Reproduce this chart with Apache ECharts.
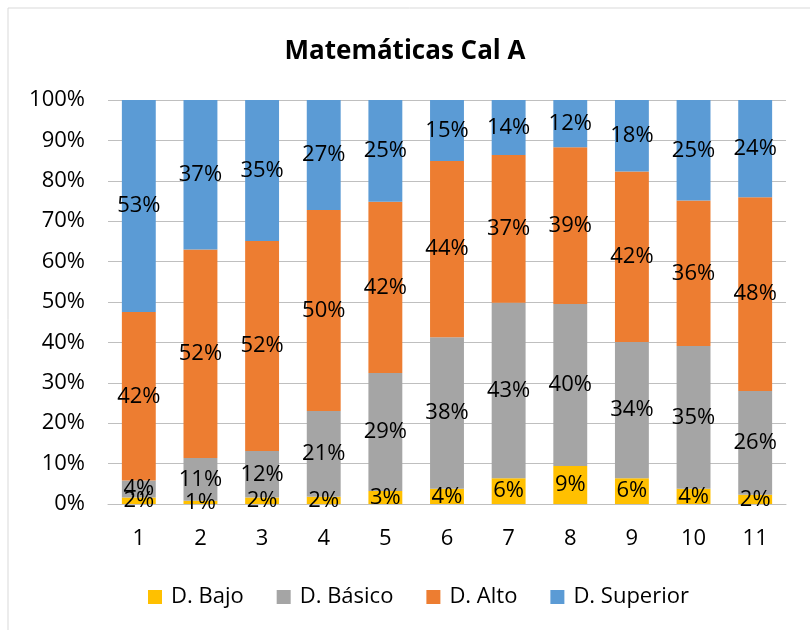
<!DOCTYPE html>
<html>
<head>
<meta charset="utf-8">
<script src="https://cdn.jsdelivr.net/npm/echarts@6/dist/echarts.min.js"></script>
<style>
html,body{margin:0;padding:0;background:#fff;}
#main{width:810px;height:630px;}
</style>
</head>
<body>
<div id="main"></div>
<script>
var categories = ['1','2','3','4','5','6','7','8','9','10','11'];
var bajo     = [1.6, 0.8, 1.6, 1.8, 3.2, 3.8, 6.4, 9.4, 6.4, 3.8, 2.3];
var basico   = [4.2, 10.6, 11.5, 21.2, 29.2, 37.5, 43.4, 40.1, 33.7, 35.3, 25.7];
var alto     = [41.7, 51.6, 52.0, 49.8, 42.4, 43.6, 36.6, 38.8, 42.2, 36.0, 47.9];
var superior = [52.5, 37.0, 34.9, 27.2, 25.2, 15.1, 13.6, 11.7, 17.7, 24.9, 24.1];

var font = '"Open Sans", "Noto Sans", sans-serif';
var labelOpt = {
	show: true,
	position: 'inside',
	color: '#000',
	fontSize: 22,
	fontFamily: font,
	formatter: function(p){ return Math.round(p.value) + '%'; }
};
function serie(name, data, color){
	return {
		name: name,
		type: 'bar',
		stack: 'total',
		barCategoryGap: '45%',
		data: data,
		itemStyle: {color: color},
		label: labelOpt
	};
}

var myChart = echarts.init(document.getElementById('main'));
var option = {
	animation: false,
	title: {
		text: 'Matemáticas Cal A',
		left: 'center',
		top: 34,
		textStyle: {fontSize: 26, fontWeight: 'bold', color: '#000', fontFamily: font}
	},
	graphic: [{
		type: 'rect',
		shape: {x: 8, y: 8, width: 900, height: 900},
		style: {fill: 'none', stroke: '#d9d9d9', lineWidth: 1}
	}],
	legend: {
		top: 581,
		left: 143,
		itemWidth: 14,
		itemHeight: 14,
		itemGap: 33,
		icon: 'rect',
		textStyle: {fontSize: 22, color: '#000', fontFamily: font, padding: [0, 0, 0, 4]},
		data: ['D. Bajo','D. Básico','D. Alto','D. Superior']
	},
	grid: {left: 108, right: 24, top: 100, bottom: 126},
	xAxis: {
		type: 'category',
		data: categories,
		axisLine: {lineStyle: {color: '#bfbfbf'}},
		axisTick: {show: false},
		axisLabel: {fontSize: 22, color: '#000', margin: 24, fontFamily: font}
	},
	yAxis: {
		type: 'value',
		min: 0,
		max: 100,
		interval: 10,
		axisLine: {show: false},
		axisTick: {show: false},
		splitLine: {lineStyle: {color: '#bfbfbf'}},
		axisLabel: {fontSize: 22, color: '#000', margin: 23, fontFamily: font, formatter: '{value}%'}
	},
	series: [
		serie('D. Bajo', bajo, '#FFC000'),
		serie('D. Básico', basico, '#A5A5A5'),
		serie('D. Alto', alto, '#ED7D31'),
		serie('D. Superior', superior, '#5B9BD5')
	]
};
myChart.setOption(option);
</script>
</body>
</html>
